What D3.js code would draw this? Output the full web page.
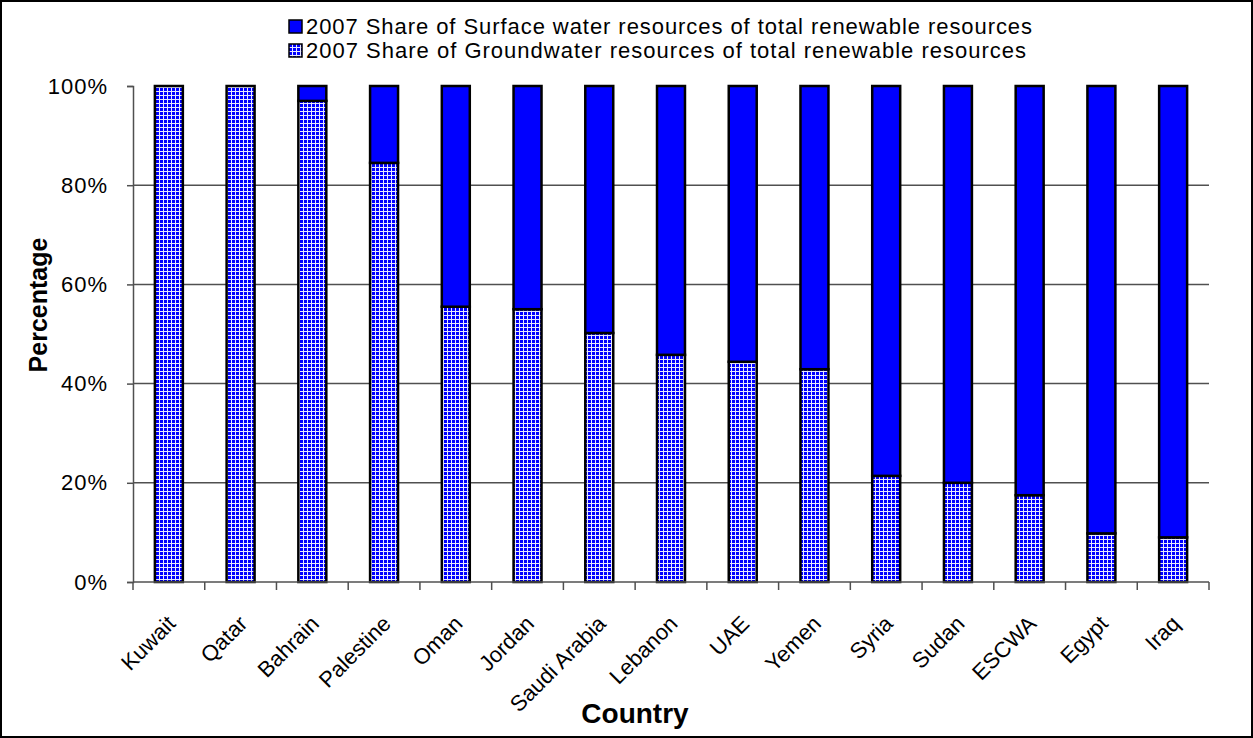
<!DOCTYPE html>
<html>
<head>
<meta charset="utf-8">
<script src="https://cdn.jsdelivr.net/npm/d3@7"></script>
<style>
  html, body { margin: 0; padding: 0; background: #fff; }
  svg { display: block; font-family: "Liberation Sans", Arial, sans-serif; }
</style>
</head>
<body>
<svg id="chart" width="1253" height="738"></svg>
<script>
// Country order as shown on the x axis
const countries = ["Kuwait", "Qatar", "Bahrain", "Palestine", "Oman", "Jordan", "Saudi Arabia",
  "Lebanon", "UAE", "Yemen", "Syria", "Sudan", "ESCWA", "Egypt", "Iraq"];

// 2007 share of groundwater in total renewable water resources (%)
const groundwater = [100, 100, 97, 84.5, 55.5, 55, 50.2, 45.8, 44.4, 42.9, 21.4, 20, 17.5, 9.8, 9];

// 2007 share of surface water in total renewable water resources (%)
const surface = [0, 0, 3, 15.5, 44.5, 45, 49.8, 54.2, 55.6, 57.1, 78.6, 80, 82.5, 90.2, 91];

const yTicks = [0, 20, 40, 60, 80, 100];
const seriesNames = [
  "2007 Share of Surface water resources of total renewable resources",
  "2007 Share of Groundwater resources of total renewable resources"
];

const svg = d3.select("#chart");
const W = 1253, H = 738;
const plot = { left: 133, right: 1209, top: 86, bottom: 582 };

// Grid-pattern fill for the groundwater series
const defs = svg.append("defs");
const pat = defs.append("pattern")
  .attr("id", "grid")
  .attr("patternUnits", "userSpaceOnUse")
  .attr("width", 4).attr("height", 4);
pat.append("rect").attr("width", 4).attr("height", 4).attr("fill", "#0000ff");
pat.append("rect").attr("x", 0).attr("y", 3).attr("width", 4).attr("height", 1).attr("fill", "#e8e8ff");
pat.append("rect").attr("x", 3).attr("y", 0).attr("width", 1).attr("height", 4).attr("fill", "#e8e8ff");

// Outer frame
svg.append("rect")
  .attr("x", 1).attr("y", 1).attr("width", W - 2).attr("height", H - 2)
  .attr("fill", "#fff").attr("stroke", "#000").attr("stroke-width", 2);

const x = d3.scaleBand()
  .domain(countries)
  .range([plot.left, plot.right])
  .paddingInner(0.61).paddingOuter(0.305);

const xBounds = d3.scaleLinear()
  .domain([0, countries.length])
  .range([plot.left, plot.right]);

const y = d3.scaleLinear().domain([0, 100]).range([plot.bottom, plot.top]);

// Horizontal gridlines
svg.append("g")
  .selectAll("line")
  .data(yTicks.filter(t => t > 0 && t < 100))
  .join("line")
  .attr("x1", plot.left).attr("x2", plot.right)
  .attr("y1", d => y(d)).attr("y2", d => y(d))
  .attr("stroke", "#505050").attr("stroke-width", 1.5);

// Stacked bars: groundwater at the bottom, surface water on top
const stackData = countries.map((c, i) => ({ country: c, ground: groundwater[i], surface: surface[i] }));
const stacked = d3.stack().keys(["ground", "surface"])(stackData);
const fills = { ground: "url(#grid)", surface: "#0000ff" };

svg.append("g")
  .selectAll("g")
  .data(stacked)
  .join("g")
  .attr("fill", d => fills[d.key])
  .selectAll("rect")
  .data(d => d.filter(p => p[1] - p[0] > 0))
  .join("rect")
  .attr("x", d => x(d.data.country))
  .attr("width", x.bandwidth())
  .attr("y", d => y(d[1]))
  .attr("height", d => y(d[0]) - y(d[1]))
  .attr("stroke", "#000")
  .attr("stroke-width", 2.5);

// Y axis
const yAxis = svg.append("g")
  .attr("transform", `translate(${plot.left},0)`)
  .call(d3.axisLeft(y).tickValues(yTicks).tickFormat(d => d + "%").tickSize(6).tickPadding(19));
yAxis.select(".domain").attr("stroke", "#505050").attr("stroke-width", 1.5);
yAxis.selectAll(".tick line").attr("stroke", "#505050").attr("stroke-width", 1.5);
yAxis.selectAll(".tick text")
  .attr("font-size", 22).attr("fill", "#000")
  .attr("letter-spacing", 1)
  .attr("font-family", "Liberation Sans, Arial, sans-serif");

// X axis baseline and ticks at category boundaries
const xg = svg.append("g");
xg.append("line")
  .attr("x1", plot.left).attr("x2", plot.right)
  .attr("y1", plot.bottom).attr("y2", plot.bottom)
  .attr("stroke", "#505050").attr("stroke-width", 1.5);
xg.selectAll("line.tk")
  .data(d3.range(countries.length + 1))
  .join("line").attr("class", "tk")
  .attr("x1", d => xBounds(d)).attr("x2", d => xBounds(d))
  .attr("y1", plot.bottom).attr("y2", plot.bottom + 8)
  .attr("stroke", "#505050").attr("stroke-width", 1.5);

// Rotated category labels, anchored at the end of the baseline
xg.selectAll("text")
  .data(countries)
  .join("text")
  .attr("transform", d => `translate(${x(d) + x.bandwidth() / 2 + 8},${plot.bottom + 43}) rotate(-45)`)
  .attr("text-anchor", "end")
  .attr("font-size", 22)
  .text(d => d);

// Axis titles
svg.append("text")
  .attr("transform", `translate(47,305) rotate(-90)`)
  .attr("text-anchor", "middle")
  .attr("font-size", 25).attr("font-weight", "bold")
  .text("Percentage");

svg.append("text")
  .attr("x", 635).attr("y", 723)
  .attr("text-anchor", "middle")
  .attr("font-size", 28).attr("font-weight", "bold")
  .text("Country");

// Legend
const legend = svg.append("g").attr("transform", "translate(289,0)");
const legendFills = ["#0000ff", "url(#grid)"];
const legendWidths = [726, 720];
seriesNames.forEach((name, i) => {
  const base = 34 + i * 24;
  legend.append("rect")
    .attr("x", 0).attr("y", base - 14).attr("width", 13).attr("height", 13)
    .attr("fill", legendFills[i]).attr("stroke", "#000").attr("stroke-width", 1.5);
  legend.append("text")
    .attr("x", 17).attr("y", base)
    .attr("font-size", 22)
    .attr("textLength", legendWidths[i])
    .attr("lengthAdjust", "spacing")
    .text(name);
});
</script>
</body>
</html>
